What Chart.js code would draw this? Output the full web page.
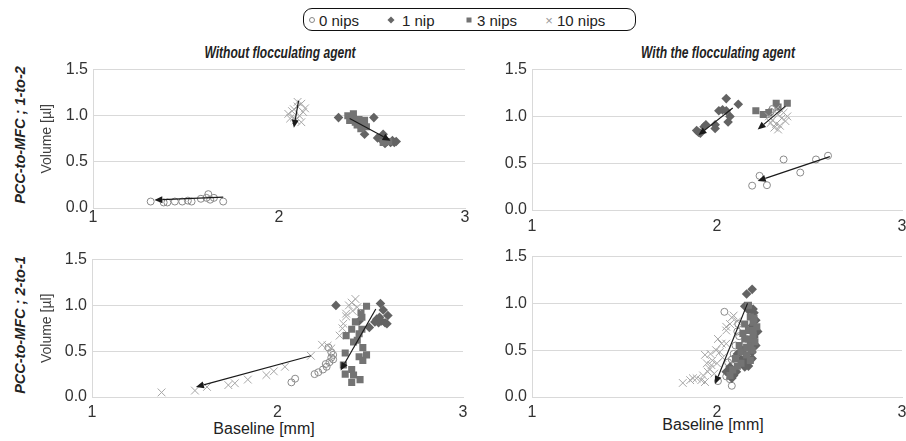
<!DOCTYPE html>
<html>
<head>
<meta charset="utf-8">
<script src="https://cdn.jsdelivr.net/npm/chart.js@4.4.1/dist/chart.umd.min.js"></script>
<style>
  html, body { margin: 0; padding: 0; width: 906px; height: 441px; overflow: hidden; background: #fff;
    font-family: "Liberation Sans", Arial, sans-serif; }
  canvas { position: absolute; }
  .t { position: absolute; white-space: nowrap; color: #222; transform: translate(-50%, -50%); }
  .rot { transform: translate(-50%, -50%) rotate(-90deg); }
  .bi { font-weight: bold; font-style: italic; }
  .narrow { transform: translate(-50%, -50%) scaleX(0.73); }
  #legend { position: absolute; left: 303px; top: 8px; width: 331px; height: 21px;
    border: 1.8px solid #111; border-radius: 9px; }
  .lg { position: absolute; top: 20px; font-size: 15px; color: #222; transform: translateY(-50%); white-space: nowrap; }
  .mk { position: absolute; top: 20px; transform: translate(-50%, -50%); }
</style>
</head>
<body>
<div id="legend"></div>
<span class="mk" style="left:312px;width:4px;height:4px;border:1px solid #888;border-radius:50%"></span>
<span class="lg" style="left:319px">0 nips</span>
<span class="mk" style="left:391px;width:5px;height:5px;background:#666;transform:translate(-50%,-50%) rotate(45deg)"></span>
<span class="lg" style="left:402px">1 nip</span>
<span class="mk" style="left:469px;width:5px;height:5px;background:#737373"></span>
<span class="lg" style="left:477px">3 nips</span>
<span class="mk" style="left:549px;font-size:13px;color:#999">×</span>
<span class="lg" style="left:557px">10 nips</span>

<div class="t bi narrow" style="left:280px;top:52px;font-size:16.5px">Without flocculating agent</div>
<div class="t bi narrow" style="left:718px;top:52px;font-size:16.5px">With the flocculating agent</div>
<div class="t bi rot" style="left:20px;top:135px;font-size:14.5px">PCC-to-MFC ; 1-to-2</div>
<div class="t bi rot" style="left:20px;top:325px;font-size:14.5px">PCC-to-MFC ; 2-to-1</div>
<div class="t" style="left:264px;top:429px;font-size:16px">Baseline [mm]</div>
<div class="t" style="left:713px;top:425px;font-size:16px">Baseline [mm]</div>

<canvas id="tl"></canvas>
<canvas id="tr"></canvas>
<canvas id="bl"></canvas>
<canvas id="br"></canvas>

<script>
// series names
const categories = ["0 nips", "1 nip", "3 nips", "10 nips"];
const xTicks = [1, 2, 3];
const yTicks = [0, 0.5, 1.0, 1.5];

// PCC-to-MFC 1-to-2, without flocculating agent
const tl0 = [[1.31,0.07],[1.38,0.06],[1.40,0.06],[1.44,0.07],[1.48,0.07],[1.51,0.08],[1.53,0.07],[1.58,0.10],[1.61,0.11],[1.62,0.15],[1.63,0.09],[1.65,0.11],[1.70,0.07]];
const tl1 = [[2.32,0.98],[2.51,0.98],[2.46,0.80],[2.44,0.88],[2.56,0.80],[2.55,0.74],[2.58,0.72],[2.60,0.71],[2.62,0.71],[2.63,0.72],[2.57,0.70],[2.61,0.73],[2.53,0.76]];
const tl3 = [[2.37,1.00],[2.39,0.98],[2.40,1.02],[2.38,0.95],[2.41,0.93],[2.43,0.96],[2.42,0.90],[2.45,0.92],[2.44,0.86],[2.47,0.88],[2.40,0.97],[2.46,0.95],[2.59,0.72],[2.56,0.71]];
const tl10 = [[2.05,1.02],[2.07,1.05],[2.08,0.98],[2.10,1.10],[2.12,1.13],[2.09,0.95],[2.13,1.04],[2.11,1.00],[2.06,0.97],[2.14,1.08],[2.10,1.15],[2.12,0.93],[2.08,1.07]];
const tlArrows = [[1.70,0.118,1.33,0.086],[2.105,1.16,2.08,0.87],[2.38,0.97,2.60,0.73]];

// PCC-to-MFC 1-to-2, with the flocculating agent
const tr0 = [[2.19,0.26],[2.23,0.365],[2.27,0.265],[2.36,0.54],[2.45,0.40],[2.535,0.54],[2.60,0.58],[2.29,1.05],[2.30,1.08],[2.27,1.02]];
const tr1 = [[1.89,0.85],[1.90,0.83],[1.91,0.82],[1.93,0.89],[1.94,0.91],[1.99,0.91],[1.99,0.87],[2.01,1.06],[2.03,1.07],[2.05,1.06],[2.05,1.19],[2.06,0.94],[2.07,1.00],[2.115,1.13]];
const tr3 = [[2.21,1.06],[2.25,1.02],[2.28,1.04],[2.32,1.14],[2.33,1.10],[2.38,1.14]];
const tr10 = [[2.28,1.00],[2.30,0.96],[2.32,0.92],[2.33,1.02],[2.35,0.98],[2.31,0.88],[2.34,0.90],[2.36,1.04],[2.37,0.95],[2.29,0.93],[2.33,0.86],[2.35,1.06],[2.38,1.00],[2.32,1.08]];
const trArrows = [[2.085,1.09,1.90,0.80],[2.37,1.11,2.22,0.86],[2.61,0.57,2.22,0.31]];

// PCC-to-MFC 2-to-1, without flocculating agent
const bl0 = [[2.075,0.16],[2.095,0.20],[2.20,0.25],[2.22,0.27],[2.245,0.30],[2.265,0.33],[2.28,0.38],[2.29,0.43],[2.29,0.49],[2.275,0.54],[2.30,0.41],[2.26,0.36],[2.30,0.46]];
const bl1 = [[2.315,1.00],[2.555,1.02],[2.57,0.95],[2.595,0.89],[2.535,0.85],[2.525,0.82],[2.545,0.81],[2.56,0.83],[2.58,0.81],[2.59,0.80],[2.495,0.76],[2.44,0.83],[2.55,0.87]];
const bl3 = [[2.48,0.99],[2.45,0.92],[2.455,0.87],[2.40,0.74],[2.455,0.74],[2.37,0.67],[2.44,0.69],[2.41,0.60],[2.46,0.54],[2.365,0.48],[2.44,0.44],[2.48,0.46],[2.46,0.40],[2.355,0.35],[2.40,0.30],[2.365,0.25],[2.41,0.24],[2.40,0.16],[2.445,0.19],[2.42,0.82],[2.43,0.62]];
const bl10 = [[1.375,0.05],[1.555,0.07],[1.62,0.11],[1.735,0.13],[1.77,0.15],[1.84,0.19],[1.94,0.24],[1.98,0.28],[2.04,0.33],[2.18,0.45],[2.24,0.57],[2.27,0.56],[2.29,0.53],[2.335,0.67],[2.35,0.75],[2.355,0.80],[2.37,0.88],[2.37,0.91],[2.385,1.00],[2.405,0.94],[2.42,1.07],[2.43,0.98],[2.40,1.03]];
const blArrows = [[2.18,0.45,1.56,0.11],[2.53,0.96,2.34,0.29]];

// PCC-to-MFC 2-to-1, with the flocculating agent
const br0 = [[2.04,0.91],[2.08,0.12],[2.005,0.17],[2.07,0.19],[2.06,0.37],[2.05,0.22],[2.115,0.78],[2.12,0.65],[2.10,0.55],[2.09,0.46],[2.07,0.28],[2.11,0.70],[2.08,0.40]];
const br1 = [[2.19,1.15],[2.16,1.10],[2.15,0.97],[2.17,0.93],[2.195,0.94],[2.20,0.90],[2.21,0.82],[2.19,0.76],[2.22,0.70],[2.20,0.64],[2.21,0.55],[2.19,0.48],[2.16,0.43],[2.19,0.41],[2.15,0.36],[2.17,0.33],[2.13,0.40],[2.15,0.32],[2.07,0.32],[2.05,0.27],[2.09,0.23],[2.105,0.27],[2.08,0.20],[2.11,0.46],[2.14,0.50]];
const br3 = [[2.17,0.98],[2.18,0.855],[2.195,0.80],[2.215,0.75],[2.17,0.71],[2.195,0.66],[2.15,0.62],[2.18,0.57],[2.12,0.55],[2.19,0.50],[2.13,0.48],[2.16,0.45],[2.10,0.41],[2.18,0.39],[2.13,0.36],[2.085,0.29],[2.07,0.23],[2.15,0.78],[2.195,0.71],[2.16,0.53],[2.205,0.59],[2.14,0.68],[2.20,0.84],[2.11,0.33],[2.17,0.62]];
const br10 = [[1.815,0.15],[1.855,0.18],[1.87,0.20],[1.89,0.20],[1.915,0.18],[1.935,0.16],[1.935,0.45],[1.965,0.46],[1.945,0.36],[1.95,0.27],[1.975,0.39],[1.995,0.50],[2.015,0.48],[2.025,0.57],[2.005,0.62],[2.05,0.71],[2.05,0.75],[2.07,0.78],[2.09,0.87],[2.11,0.81],[2.08,0.85],[2.05,0.57],[1.985,0.25],[1.97,0.34],[2.00,0.36],[1.925,0.23],[2.03,0.42],[1.96,0.30]];
const brArrows = [[2.165,1.00,1.99,0.14]];

Chart.defaults.font.family = '"Liberation Sans", Arial, sans-serif';

// arrows drawn on top of the markers, in data coordinates
const arrowPlugin = {
  id: "arrows",
  afterDatasetsDraw(chart, args, opts) {
    const ctx = chart.ctx, sx = chart.scales.x, sy = chart.scales.y;
    ctx.save();
    ctx.strokeStyle = "#1a1a1a";
    ctx.fillStyle = "#1a1a1a";
    ctx.lineWidth = 1.2;
    (opts.list || []).forEach(a => {
      const x1 = sx.getPixelForValue(a[0]), y1 = sy.getPixelForValue(a[1]);
      const x2 = sx.getPixelForValue(a[2]), y2 = sy.getPixelForValue(a[3]);
      const ang = Math.atan2(y2 - y1, x2 - x1);
      const L = 8, W = 3.5;
      const bx = x2 - L * Math.cos(ang), by = y2 - L * Math.sin(ang);
      ctx.beginPath(); ctx.moveTo(x1, y1); ctx.lineTo(bx, by); ctx.stroke();
      ctx.beginPath();
      ctx.moveTo(x2, y2);
      ctx.lineTo(bx + W * Math.sin(ang), by - W * Math.cos(ang));
      ctx.lineTo(bx - W * Math.sin(ang), by + W * Math.cos(ang));
      ctx.closePath(); ctx.fill();
    });
    ctx.restore();
  }
};

const styles = [
  { pointStyle: "circle", pointRadius: 3.5, backgroundColor: "rgba(0,0,0,0)", borderColor: "#8a8a8a", borderWidth: 1 },
  { pointStyle: "rectRot", pointRadius: 4.8, backgroundColor: "#636363", borderColor: "#636363", borderWidth: 0 },
  { pointStyle: "rect", pointRadius: 5, backgroundColor: "#737373", borderColor: "#737373", borderWidth: 0 },
  { pointStyle: "crossRot", pointRadius: 5.5, backgroundColor: "#a6a6a6", borderColor: "#a6a6a6", borderWidth: 1 }
];

function makeChart(id, c) {
  const cv = document.getElementById(id);
  cv.width = c.w; cv.height = c.h;
  cv.style.left = c.left + "px"; cv.style.top = c.top + "px";
  // later series on top
  const sets = c.series.map((s, i) => Object.assign({
    label: categories[i],
    data: s.map(p => ({ x: p[0], y: p[1] })),
    order: 3 - i
  }, styles[i]));
  new Chart(cv, {
    type: "scatter",
    data: { datasets: sets },
    plugins: [arrowPlugin],
    options: {
      responsive: false,
      animation: false,
      events: [],
      layout: { padding: { top: c.padTop, right: c.padRight, left: 0, bottom: 0 } },
      plugins: { legend: { display: false }, tooltip: { enabled: false }, arrows: { list: c.arrows } },
      scales: {
        x: {
          type: "linear", min: xTicks[0], max: xTicks[xTicks.length - 1],
          afterBuildTicks: s => { s.ticks = xTicks.map(v => ({ value: v })); },
          ticks: { padding: c.xPad, color: "#333", font: { size: 16 } },
          grid: { display: false, drawTicks: false },
          border: { display: true, color: "#d9d9d9" },
          afterFit: s => { s.height = c.xH; }
        },
        y: {
          min: yTicks[0], max: yTicks[yTicks.length - 1],
          afterBuildTicks: s => { s.ticks = yTicks.map(v => ({ value: v })); },
          ticks: { padding: 5, color: "#333", font: { size: 16 }, callback: v => v.toFixed(1) },
          grid: { color: "#d9d9d9", drawTicks: false },
          border: { display: true, color: "#d9d9d9" },
          title: { display: c.yTitle, text: "Volume [µl]", color: "#404040", font: { size: 14 }, padding: { top: 4, bottom: 4 } },
          afterFit: s => { s.width = c.yW; }
        }
      }
    }
  });
}

makeChart("tl", { left: 35, top: 55, w: 442, h: 178, padTop: 13, padRight: 12, yW: 58, xH: 25, xPad: 0, yTitle: true,
  series: [tl0, tl1, tl3, tl10], arrows: tlArrows });
makeChart("tr", { left: 490, top: 55, w: 430, h: 185, padTop: 14, padRight: 18, yW: 42, xH: 30, xPad: 7, yTitle: false,
  series: [tr0, tr1, tr3, tr10], arrows: trArrows });
makeChart("bl", { left: 35, top: 245, w: 440, h: 182, padTop: 13, padRight: 12, yW: 57, xH: 30, xPad: 6, yTitle: true,
  series: [bl0, bl1, bl3, bl10], arrows: blArrows });
makeChart("br", { left: 490, top: 242, w: 430, h: 185, padTop: 14, padRight: 18, yW: 42, xH: 30, xPad: 6, yTitle: false,
  series: [br0, br1, br3, br10], arrows: brArrows });
</script>
</body>
</html>
